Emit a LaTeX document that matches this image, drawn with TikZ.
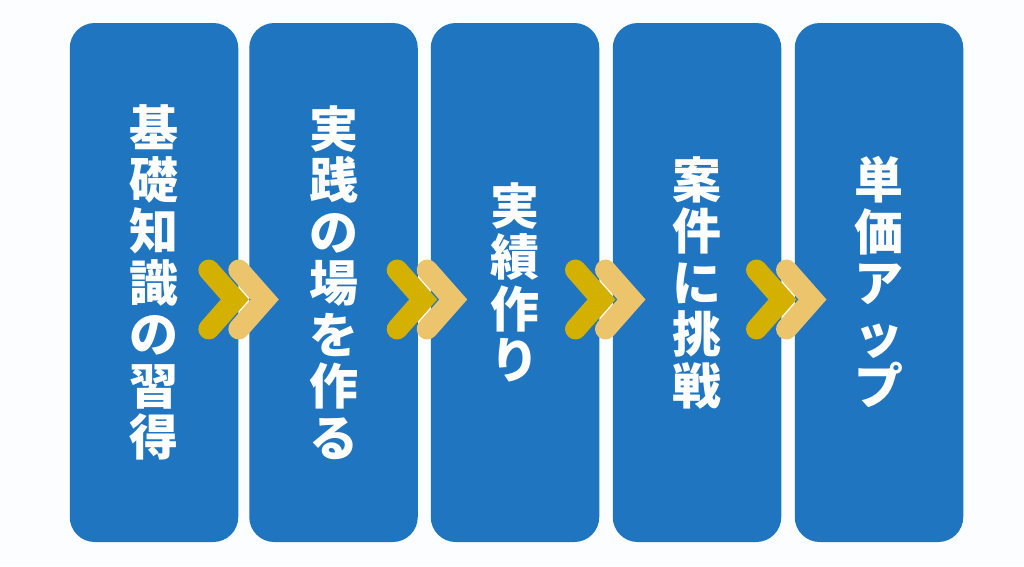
\documentclass[tikz,border=0pt]{standalone}
\usepackage{fontspec}
\newfontfamily\jpfont{Noto Sans CJK JP}[BoldFont={Noto Sans CJK JP Black}]
\definecolor{pagebg}{RGB}{252,253,255}
\definecolor{stepblue}{RGB}{31,117,192}
\definecolor{chevdark}{RGB}{212,176,0}
\definecolor{chevlight}{RGB}{236,196,108}

\begin{document}
\begin{tikzpicture}[x=1pt,y=-1pt,
    darkchev/.style={draw=chevdark,line width=21pt,line cap=round,line join=miter},
    lightchev/.style={draw=chevlight,line width=21pt,line cap=round,line join=miter}]
  \fill[pagebg] (0,0) rectangle (1024,566);
  \useasboundingbox (0,0) rectangle (1024,566);
  \begin{scope}[every node/.style={fill=stepblue,rounded corners=25pt,
      minimum width=168.5pt,minimum height=519pt,inner sep=0pt,
      text=white,align=center,font={\jpfont\bfseries\fontsize{49}{51.5}\selectfont}}]
    \node (1) at (154,282.5) {基\\礎\\知\\識\\の\\習\\得};
    \node (2) at (333.5,282.5) {実\\践\\の\\場\\を\\作\\る};
    \node (3) at (515,282.5) {実\\績\\作\\り};
    \node (4) at (697,282.5) {案\\件\\に\\挑\\戦};
    \node (5) at (879,282.5) {単\\価\\ア\\ッ\\プ};
  \end{scope}
  \begin{scope}
    \foreach \x in {198.3,386.7,565,746} {
      \draw[lightchev] (\x+40.5,270) -- (\x+66.5,299.5) -- (\x+40.5,329);
      \draw[darkchev] (\x+10.5,270) -- (\x+36.5,299.5) -- (\x+10.5,329);
    }
  \end{scope}
\end{tikzpicture}
\end{document}
